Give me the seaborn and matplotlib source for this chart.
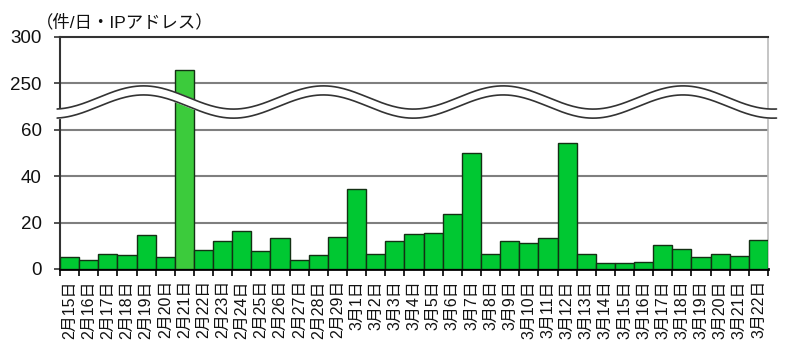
import numpy as np
import pandas as pd
import matplotlib
matplotlib.use("Agg")
import matplotlib.pyplot as plt
import seaborn as sns

# ==========================================
# Data
# ==========================================

dates = (
    ["2月%d日" % d for d in range(15, 30)]
    + ["3月%d日" % d for d in range(1, 23)]
)

counts = [
    5, 4, 6.6, 6.1, 14.7, 5.3, 264, 8.1, 12, 16.3, 7.7, 13.4, 3.9, 6.1, 13.9,
    34.4, 6.6, 11.9, 15.1, 15.7, 23.9, 50.1, 6.6, 11.9, 11.0, 13.4, 54.4,
    6.6, 2.6, 2.6, 3.1, 10.4, 8.6, 5.3, 6.6, 5.7, 12.4,
]

ytick_values = [0, 20, 40, 60, 250, 300]
ylabel_text = "（件/日・IPアドレス）"

df = pd.DataFrame({"date": dates, "count": counts})

bar_colors = ["#3ccb3c" if c > 60 else "#00c832" for c in counts]

# ==========================================
# Broken axis scale (0-60 / 250-300)
# ==========================================

def forward(v):
    v = np.asarray(v, dtype=float)
    return np.where(
        v <= 60, v,
        np.where(v < 250, 60 + (v - 60) * 20 / 190, 80 + (v - 250) * 0.4)
    )


def inverse(m):
    m = np.asarray(m, dtype=float)
    return np.where(
        m <= 60, m,
        np.where(m < 80, 60 + (m - 60) * 190 / 20, 250 + (m - 80) / 0.4)
    )


# ==========================================
# Plot
# ==========================================

sns.set_style("white")
plt.rcParams["font.family"] = ["Liberation Sans", "Noto Sans CJK JP", "DejaVu Sans"]

fig = plt.figure(figsize=(8, 3.62), dpi=100)
ax = fig.add_axes([0.075, 0.257, 0.885, 0.641])

ax.set_yscale("function", functions=(forward, inverse))

sns.barplot(
    data=df,
    x="date",
    y="count",
    hue="date",
    palette=bar_colors,
    legend=False,
    width=1.0,
    saturation=1,
    edgecolor="#143014",
    linewidth=1.0,
    ax=ax,
    zorder=3,
)

ax.set_ylim(0, 300)
ax.set_xlim(-0.5, len(dates) - 0.5)
ax.set_yticks(ytick_values)
ax.set_yticklabels([str(v) for v in ytick_values], fontsize=13.5, color="#111111")
ax.yaxis.set_minor_locator(matplotlib.ticker.NullLocator())

for v in ytick_values[1:-1]:
    ax.axhline(v, color="#7f7f7f", lw=1.5, zorder=1)

ax.set_xticks(np.arange(len(dates)))
ax.set_xticklabels(dates, rotation=90, fontsize=11.5, color="#111111")
ax.set_xticks(np.arange(len(dates) + 1) - 0.5, minor=True)
ax.tick_params(axis="x", which="major", length=0, pad=8)
ax.tick_params(axis="x", which="minor", length=5, width=1.2, color="black",
               direction="out", bottom=True)
ax.tick_params(axis="y", length=4, width=1.2, color="#333333", direction="out",
               left=True, pad=9)

ax.set_xlabel("")
ax.set_ylabel("")

for side in ["left", "top"]:
    ax.spines[side].set_color("#333333")
    ax.spines[side].set_linewidth(1.5)
ax.spines["bottom"].set_color("black")
ax.spines["bottom"].set_linewidth(2)
ax.spines["right"].set_color("#bbbbbb")
ax.spines["right"].set_linewidth(1.2)

# wavy break band
xs = np.linspace(-0.004, 1.012, 400)
phase = 2 * np.pi * (xs - 0.118) / 0.254
top = 0.739 + 0.05 * np.cos(phase)
bottom = top - 0.039
ax.fill_between(xs, bottom, top, transform=ax.transAxes, color="white",
                zorder=5, clip_on=False)
ax.plot(xs, top, transform=ax.transAxes, color="#333333", lw=1.2,
        zorder=6, clip_on=False)
ax.plot(xs, bottom, transform=ax.transAxes, color="#333333", lw=1.2,
        zorder=6, clip_on=False)

fig.text(0.045, 1 - 22 / 362, ylabel_text, fontsize=12.5, va="center",
         ha="left", color="#111111")

plt.savefig("out.png", dpi=100)
